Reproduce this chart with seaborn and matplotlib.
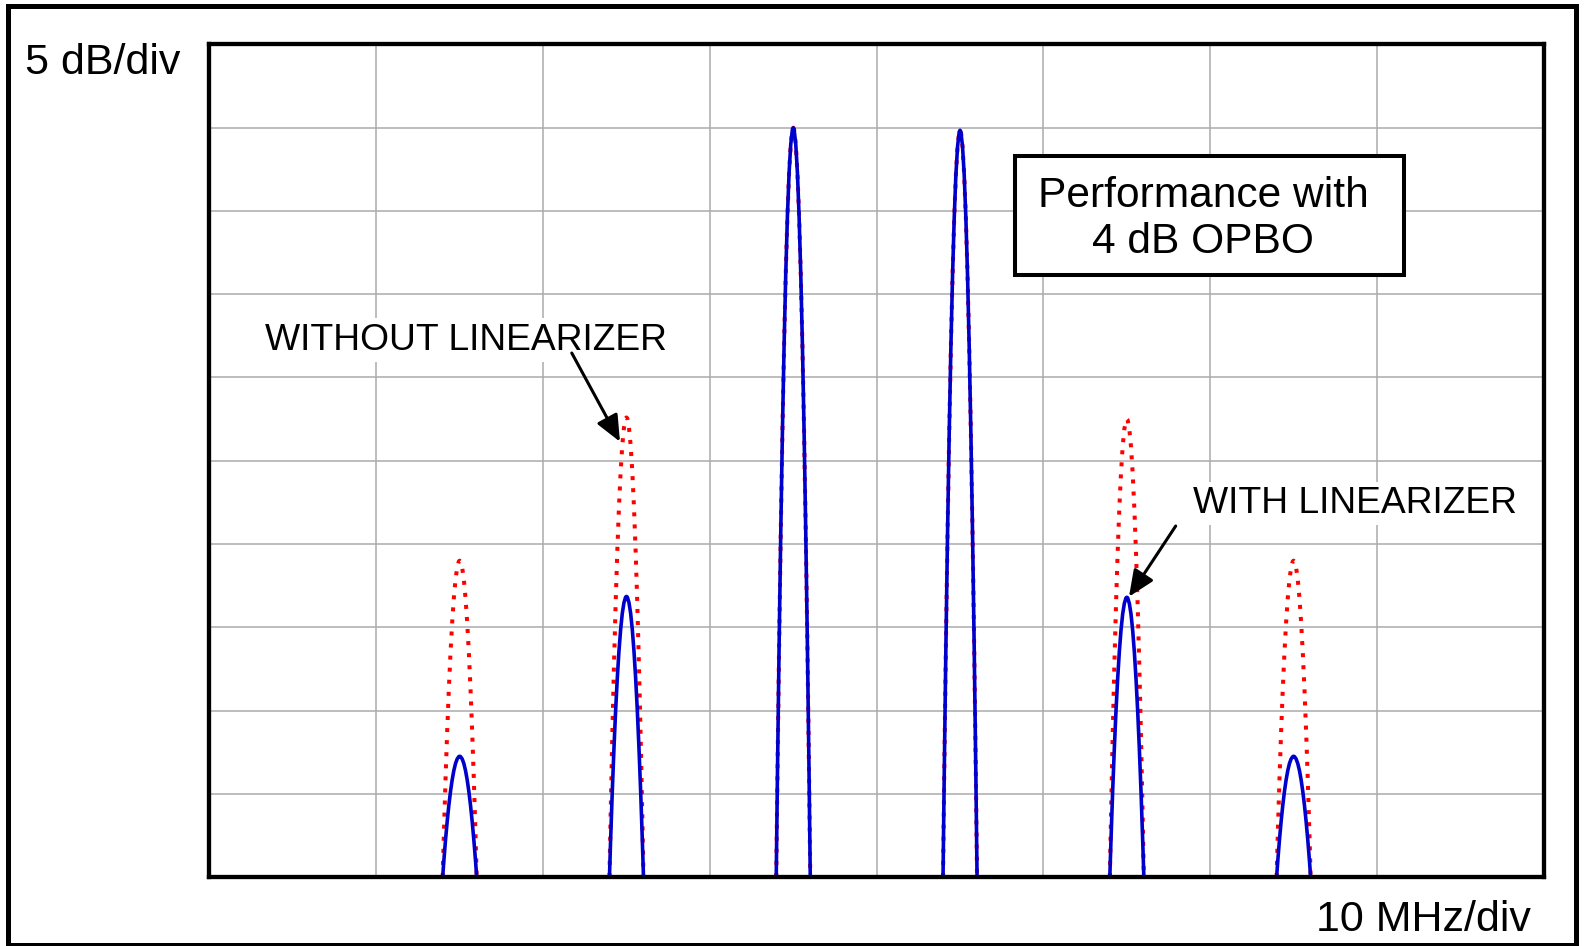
import matplotlib as mpl
mpl.use('Agg')
import matplotlib.pyplot as plt
from matplotlib.patches import Rectangle
import numpy as np
import pandas as pd
import seaborn as sns

# ── Data (in screen divisions: x = 10 MHz/div, y = 5 dB/div) ────────────
PEAK_CENTERS = [1.5, 2.5, 3.5, 4.5, 5.5, 6.5]
PEAK_WITHOUT = [3.80, 5.52, 9.00, 8.97, 5.50, 3.80]   # without linearizer
PEAK_WITH = [1.45, 3.37, 9.00, 8.97, 3.36, 1.45]      # with linearizer

# normalised lobe shape (offset from centre, rel. level)
PROFILE_DX = [-0.102, -0.095, -0.085, -0.075, -0.065, -0.055, -0.045,
              -0.035, -0.025, -0.015, -0.005, 0.0, 0.005, 0.015, 0.025,
              0.035, 0.045, 0.055, 0.065, 0.075, 0.085, 0.095, 0.102]
PROFILE_LEVEL = [0.0, 0.133, 0.306, 0.459, 0.594, 0.709, 0.805,
                 0.882, 0.940, 0.978, 0.998, 1.0, 0.998, 0.978, 0.940,
                 0.882, 0.805, 0.709, 0.594, 0.459, 0.306, 0.133, 0.0]

X_DIVS = 8
Y_DIVS = 10

W, H = 1585, 946


def build_frame(heights, label):
    rows = []
    for k, (c, h) in enumerate(zip(PEAK_CENTERS, heights)):
        for dx, lv in zip(PROFILE_DX, PROFILE_LEVEL):
            rows.append({'x': c + dx, 'y': h * lv, 'peak': k, 'cond': label})
    return pd.DataFrame(rows)


def fx(px):
    return px / W


def fy(py):
    return 1 - py / H


sns.set_theme(style='white')
plt.rcParams['font.family'] = ['Liberation Sans', 'DejaVu Sans']
plt.rcParams['text.color'] = 'black'

fig = plt.figure(figsize=(W / 100, H / 100), dpi=100)
fig.patch.set_facecolor('white')
ax = fig.add_axes([fx(209.5), fy(877), 1334.3 / W, 832.5 / H])

df_wo = build_frame(PEAK_WITHOUT, 'without')
df_w = build_frame(PEAK_WITH, 'with')

sns.lineplot(data=df_wo, x='x', y='y', units='peak', estimator=None,
             sort=False, color='#FF0000', linewidth=2.9,
             linestyle=(0, (1, 2.0)), dash_capstyle='butt', ax=ax, zorder=3)
sns.lineplot(data=df_w, x='x', y='y', units='peak', estimator=None,
             sort=False, color='#0000CC', linewidth=2.6, ax=ax, zorder=4)

ax.set_xlim(0, X_DIVS)
ax.set_ylim(0, Y_DIVS)
ax.set_xticks(range(X_DIVS + 1))
ax.set_yticks(range(Y_DIVS + 1))
ax.set_xticklabels([])
ax.set_yticklabels([])
ax.tick_params(length=0)
ax.set_xlabel('')
ax.set_ylabel('')
ax.grid(True, color='#ABABAB', lw=1.1)
ax.set_axisbelow(True)
for s in ax.spines.values():
    s.set_visible(True)
    s.set_color('black')
    s.set_linewidth(3.1)
    s.set_zorder(6)

# annotation box
ax.add_patch(Rectangle((4.828, 7.233), 2.332, 1.432, facecolor='white',
                       edgecolor='black', lw=2.9, zorder=5))
ax.text(5.957, 8.052, 'Performance with', ha='center', va='baseline',
        fontsize=30.6, zorder=7)
ax.text(5.957, 7.492, '4 dB OPBO', ha='center', va='baseline',
        fontsize=30.6, zorder=7)

# labels + arrows
lbl_box = dict(facecolor='white', edgecolor='none', pad=3)
ax.text(0.332, 6.336, 'WITHOUT LINEARIZER', ha='left', va='baseline',
        fontsize=26.8, bbox=lbl_box, zorder=7)
ax.text(5.895, 4.369, 'WITH LINEARIZER', ha='left', va='baseline',
        fontsize=26.8, bbox=lbl_box, zorder=7)
arrow = dict(arrowstyle='-|>,head_length=0.8,head_width=0.35',
             color='black', lw=2.2, mutation_scale=20, shrinkA=0, shrinkB=0)
ax.annotate('', xy=(2.461, 5.229), xytext=(2.172, 6.294),
            arrowprops=arrow, zorder=8)
ax.annotate('', xy=(5.513, 3.367), xytext=(5.793, 4.216),
            arrowprops=arrow, zorder=8)

# scale captions
fig.text(fx(25), fy(74), '5 dB/div', ha='left', va='baseline', fontsize=31)
fig.text(fx(1531), fy(931), '10 MHz/div', ha='right', va='baseline',
         fontsize=31)

# outer frame
fig.patches.append(Rectangle((fx(8), fy(945)), (1575.5 - 8) / W,
                             (945 - 6.5) / H, transform=fig.transFigure,
                             fill=False, edgecolor='black', lw=3.6,
                             clip_on=False))

fig.savefig('out.png', dpi=100)
